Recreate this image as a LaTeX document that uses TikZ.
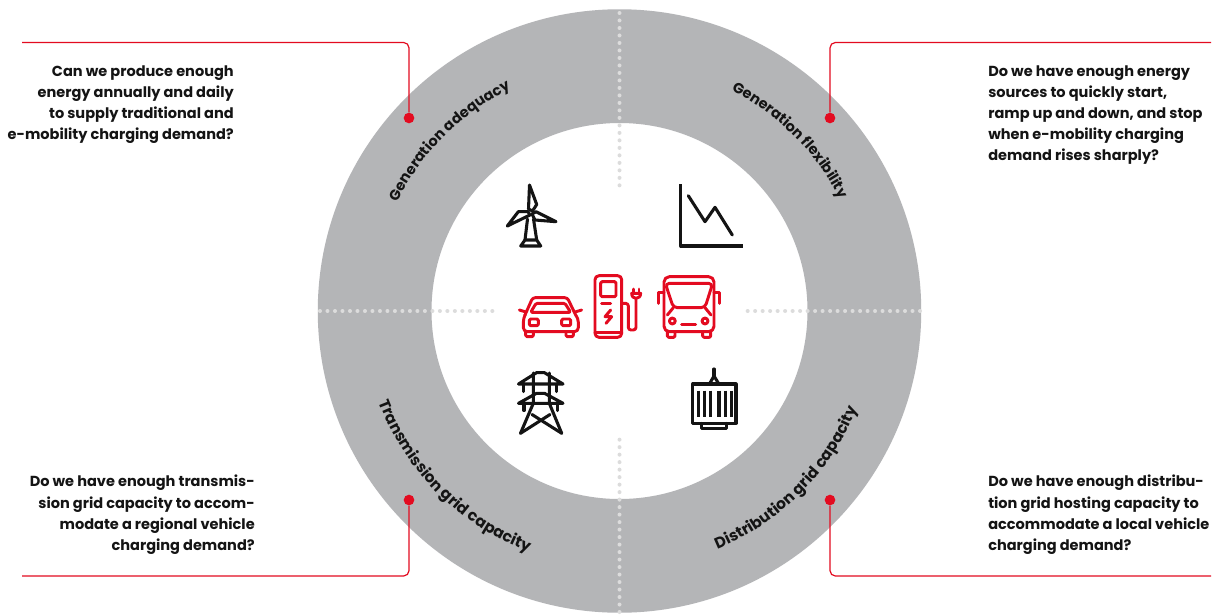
\documentclass[tikz,border=0pt]{standalone}
\usepackage{fontspec}
\setmainfont{Poppins}
\usetikzlibrary{decorations.text}
\definecolor{ringgrey}{HTML}{B4B5B7}
\definecolor{abbred}{HTML}{E30B20}
\definecolor{dotgrey}{HTML}{DCDCDC}
\definecolor{ink}{HTML}{141414}
\tikzset{
 conn/.style={draw=abbred,line width=0.9pt,rounded corners=4pt},
 reddot/.style={circle,fill=abbred,inner sep=0pt,minimum size=8pt},
 qtext/.style={inner sep=0pt,text=ink,font=\bfseries\fontsize{10.9}{15.9}\selectfont},
 dotline/.style={draw=dotgrey,line width=3pt,line cap=round,dash pattern=on 0pt off 5.62pt},
 blackicon/.style={draw=ink,line width=2.3pt,line join=round,line cap=round},
 redicon/.style={draw=abbred,line width=2.2pt,line join=round,line cap=round},
 ringtext/.style={decorate,decoration={text along path,text align=center,text color=ink,text={|\bfseries\fontsize{10.9}{13}\selectfont|#1}}},
 ringtextb/.style={decorate,decoration={text along path,text align=center,text color=ink,text={|\bfseries\fontsize{11.6}{13}\selectfont|#1}}}
}
\begin{document}
\begin{tikzpicture}[x=0.75pt,y=-0.75pt]
\useasboundingbox (0,0) rectangle (1213,614);
\fill[white] (0,0) rectangle (1213,614);
\coordinate (C) at (619.5,311);
\fill[ringgrey,even odd rule] (C) circle[radius=226.3pt] (C) circle[radius=141pt];
% dotted cross
\coordinate (t1) at (619.5,13); \coordinate (t2) at (619.5,188);
\coordinate (b1) at (619.5,612); \coordinate (b2) at (619.5,438);
\coordinate (l1) at (320,311); \coordinate (l2) at (494,311);
\coordinate (r1) at (920,311); \coordinate (r2) at (743,311);
\draw[dotline] (t1) -- (t2);
\draw[dotline] (b1) -- (b2);
\draw[dotline] (l1) -- (l2);
\draw[dotline] (r1) -- (r2);
% ring labels
\begin{scope}[shift={(C)}]
\path[ringtext={Generation adequacy}] (175:185.5pt) arc[start angle=175,end angle=95,radius=185.5pt];
\path[ringtext={Generation flexibility}] (85:185.5pt) arc[start angle=85,end angle=5,radius=185.5pt];
\path[ringtextb={Transmission grid capacity}] (175:193pt) arc[start angle=175,end angle=275,radius=193pt];
\path[ringtextb={Distribution grid capacity}] (265:193pt) arc[start angle=265,end angle=365,radius=193pt];
\end{scope}
% connectors
\node[reddot] (dTL) at (409,118) {};
\node[reddot] (dTR) at (830,118) {};
\node[reddot] (dBL) at (409,500) {};
\node[reddot] (dBR) at (830,500) {};
\coordinate (eTL) at (22,42.5);
\coordinate (eTR) at (1211,42.5);
\coordinate (eBL) at (22,576);
\coordinate (eBR) at (1211,576);
\draw[conn] (eTL) -| (dTL);
\draw[conn] (eTR) -| (dTR);
\draw[conn] (eBL) -| (dBL);
\draw[conn] (eBR) -| (dBR);
% question texts
\node[qtext,anchor=north east,align=right] (qTL) at (234,65) {Can we produce enough\\energy annually and daily\\to supply traditional and\\e-mobility charging demand?};
\node[qtext,anchor=north west,align=left] (qTR) at (988,65) {Do we have enough energy\\sources to quickly start,\\ramp up and down, and stop\\when e-mobility charging\\demand rises sharply?};
\node[qtext,anchor=north east,align=right] (qBL) at (255,475) {Do we have enough transmis-\\sion grid capacity to accom-\\modate a regional vehicle\\charging demand?};
\node[qtext,anchor=north west,align=left] (qBR) at (988,475) {Do we have enough distribu-\\tion grid hosting capacity to\\accommodate a local vehicle\\charging demand?};
% wind turbine
\draw[blackicon] (529.5,185) -- (536.7,204.5) -- (532.5,211) -- (528.5,209) -- cycle;
\draw[blackicon] (507.3,226) -- (518.3,211.7) -- (528,211.7) -- (530,215) -- cycle;
\draw[blackicon] (556,221.7) -- (536,211.7) -- (532,214) -- (535,220) -- cycle;
\draw[blackicon] (527.5,219) -- (525,240) (533.5,219) -- (536.7,240);
\draw[blackicon] (525,240) -- (536.7,240) -- (540.7,246) -- (520.7,246) -- cycle;
% chart
\draw[blackicon,line cap=butt] (680.7,184) -- (680.7,246) -- (742.5,246);
\draw[blackicon] (688.3,195.7) -- (705,221.7) -- (715,207.3) -- (732.3,235);
% tower
\begin{scope}[blackicon]
\draw (518.5,384) -- (536.5,372.7) -- (544.5,372.7) -- (563,384) -- cycle;
\draw (518.5,403.3) -- (536.5,393.3) -- (544.5,393.3) -- (563,403.3) -- cycle;
\draw (533.3,373) -- (533.3,403.3) -- (520.5,433.3);
\draw (549.3,373) -- (549.3,403.3) -- (561.7,433.3);
\draw (520.5,433.3) -- (550,414.5);
\draw (561.7,433.3) -- (532,414.5);
\draw (523.3,384) -- (523.3,391.5) (556.7,384) -- (556.7,391.5);
\draw (524,403.3) -- (524,410.5) (557.3,403.3) -- (557.3,410.5);
\end{scope}
% transformer
\begin{scope}[blackicon]
\draw (692.7,384) rectangle (736,423.3);
\draw (710,383) -- (714,376) -- (718.3,383);
\draw (714,376) -- (714,369);
\draw (701.7,423.3) -- (701.7,428.3) -- (726.7,428.3) -- (726.7,423.3);
\foreach \bx in {698.5,704.5,710.7,719,725.3,731.3}
 \draw[line cap=butt,line width=2.4pt] (\bx,390.7) -- (\bx,417.3);
\end{scope}
% car
\begin{scope}[redicon,shift={(510,265)},x=0.25pt,y=-0.25pt]
\draw[rounded corners=2pt] (45,150) -- (68,98) -- (172,98) -- (197,150);
\draw[rounded corners=3pt] (45,150) -- (40,160) -- (40,200) -- (205,200) -- (205,160) -- (197,150);
\draw[rounded corners=1pt] (62,142) -- (78,115) -- (165,115) -- (182,142) -- cycle;
\draw[rounded corners=1pt] (58,162) rectangle (85,182);
\draw[rounded corners=1pt] (155,162) rectangle (182,182);
\draw (28,135) -- (48,141);
\draw (215,135) -- (195,141);
\draw[rounded corners=1pt] (47,200) -- (47,215) -- (70,215) -- (70,200);
\draw[rounded corners=1pt] (168,200) -- (168,215) -- (190,215) -- (190,200);
\end{scope}
% charger
\begin{scope}[redicon,shift={(510,265)},x=0.25pt,y=-0.25pt]
\draw[rounded corners=3pt] (255,32) rectangle (335,217);
\draw (255,202) -- (335,202);
\draw[rounded corners=1pt] (272,50) rectangle (318,95);
\draw (275,115) -- (302,115);
\draw (302,135) -- (285,155) -- (305,155) -- (288,175);
\draw[rounded corners=2pt] (337,115) -- (355,115) -- (355,195) -- (378,195) -- (378,100);
\draw (370,72) -- (370,85) (387,72) -- (387,85);
\draw (365,85) -- (392,85) .. controls (392,95) and (385,100) .. (378,100) .. controls (371,100) and (365,95) .. (365,85) -- cycle;
\end{scope}
% bus
\begin{scope}[redicon,shift={(510,265)},x=0.25pt,y=-0.25pt]
\draw[rounded corners=4pt] (462,200) -- (462,35) -- (612,35) -- (612,200) -- cycle;
\draw[rounded corners=3pt] (466,55) -- (608,55) -- (585,128) -- (490,128) -- cycle;
\draw (490,128) -- (472,150) (585,128) -- (603,150);
\draw (445,115) -- (445,82) -- (462,82);
\draw (628,115) -- (628,82) -- (612,82);
\draw (487,168) circle[radius=2.2pt];
\draw (585,168) circle[radius=2.2pt];
\draw (515,178) -- (557,178);
\draw[rounded corners=1pt] (472,200) -- (472,217) -- (495,217) -- (495,200);
\draw[rounded corners=1pt] (578,200) -- (578,217) -- (602,217) -- (602,200);
\end{scope}
\end{tikzpicture}
\end{document}
